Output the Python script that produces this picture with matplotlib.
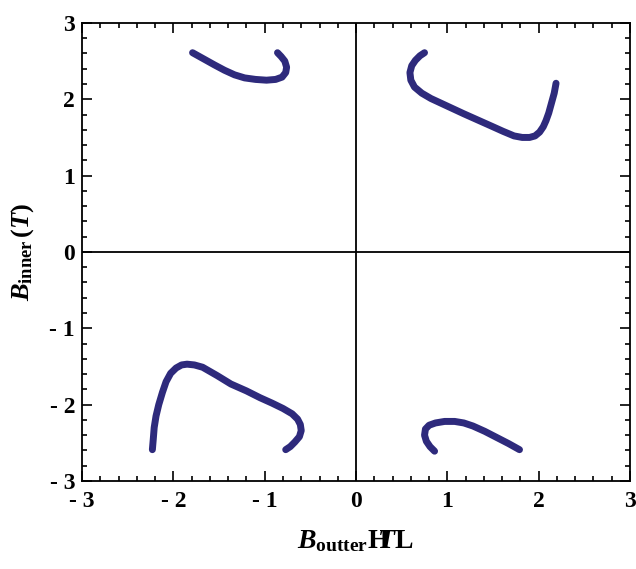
import matplotlib
matplotlib.use('Agg')
import matplotlib.pyplot as plt
from matplotlib.ticker import MultipleLocator, FixedLocator

plt.rcParams['font.family'] = ['Liberation Serif', 'DejaVu Serif']
plt.rcParams['font.weight'] = 'bold'
plt.rcParams['mathtext.fontset'] = 'custom'
plt.rcParams['mathtext.rm'] = 'Liberation Serif:bold'
plt.rcParams['mathtext.it'] = 'Liberation Serif:italic:bold'
plt.rcParams['mathtext.bf'] = 'Liberation Serif:bold'

# Branches of the solution curve, one per quadrant
q1_x = [0.75, 0.70, 0.65, 0.61, 0.59, 0.60, 0.64, 0.72, 0.82, 1.00, 1.18, 1.33, 1.48, 1.61,
        1.73, 1.82, 1.90, 1.96, 2.01, 2.05, 2.08, 2.11, 2.14, 2.17, 2.19]
q1_y = [2.61, 2.57, 2.51, 2.44, 2.35, 2.25, 2.16, 2.08, 2.01, 1.91, 1.81, 1.73, 1.65, 1.58,
        1.52, 1.50, 1.50, 1.52, 1.57, 1.64, 1.72, 1.82, 1.95, 2.08, 2.21]

q2_x = [-1.79, -1.67, -1.55, -1.44, -1.33, -1.22, -1.10, -0.98, -0.88, -0.81, -0.77, -0.76,
        -0.78, -0.82, -0.86]
q2_y = [2.61, 2.53, 2.45, 2.38, 2.32, 2.28, 2.26, 2.25, 2.26, 2.29, 2.35, 2.42, 2.50, 2.56, 2.61]

q3_x = [-2.23, -2.22, -2.21, -2.19, -2.16, -2.12, -2.08, -2.03, -1.97, -1.91, -1.85, -1.77,
        -1.68, -1.52, -1.37, -1.20, -1.05, -0.92, -0.80, -0.70, -0.64, -0.61, -0.60, -0.62,
        -0.67, -0.72, -0.77]
q3_y = [-2.59, -2.45, -2.30, -2.15, -2.00, -1.84, -1.70, -1.59, -1.52, -1.48, -1.47, -1.48,
        -1.51, -1.62, -1.73, -1.82, -1.91, -1.98, -2.05, -2.12, -2.19, -2.26, -2.34, -2.42,
        -2.49, -2.55, -2.59]

q4_x = [0.86, 0.81, 0.77, 0.75, 0.76, 0.80, 0.87, 0.97, 1.08, 1.18, 1.28, 1.41, 1.54, 1.67, 1.79]
q4_y = [-2.61, -2.55, -2.48, -2.40, -2.32, -2.27, -2.24, -2.22, -2.22, -2.24, -2.28, -2.35,
        -2.43, -2.51, -2.59]

major_ticks = [-3, -2, -1, 0, 1, 2, 3]
tick_labels = ['- 3', '- 2', '- 1', '0', '1', '2', '3']

curve_color = '#2e2a7c'

fig = plt.figure(figsize=(6.36, 5.69), dpi=100)
ax = fig.add_axes([0.129, 0.1547, 0.8616, 0.805])

for xs, ys in [(q1_x, q1_y), (q2_x, q2_y), (q3_x, q3_y), (q4_x, q4_y)]:
    ax.plot(xs, ys, color=curve_color, lw=5, solid_capstyle='round',
            solid_joinstyle='round')

# axes through the origin
ax.axhline(0, color='black', lw=1.3, zorder=0)
ax.axvline(0, color='black', lw=1.3, zorder=0)

ax.set_xlim(-3, 3)
ax.set_ylim(-3, 3)

ax.xaxis.set_major_locator(FixedLocator(major_ticks))
ax.yaxis.set_major_locator(FixedLocator(major_ticks))
ax.xaxis.set_minor_locator(MultipleLocator(0.2))
ax.yaxis.set_minor_locator(MultipleLocator(0.2))
ax.set_xticklabels(tick_labels)
ax.set_yticklabels(tick_labels)

ax.tick_params(which='both', direction='in', top=True, right=True, width=1.2)
ax.tick_params(which='major', length=7, labelsize=17)
ax.tick_params(axis='x', which='major', pad=7)
ax.tick_params(axis='y', which='major', pad=5)
ax.tick_params(which='minor', length=3.5)
for s in ax.spines.values():
    s.set_linewidth(1.3)

ax.set_xlabel(r'$B_{\rm outter}\mathrm{H}\!\!\!T\mathrm{L}$', fontsize=20, labelpad=12)
ax.set_ylabel(r'$B_{\rm inner}\,(T)$', fontsize=19, labelpad=10)

plt.savefig('out.png', dpi=100)
plt.close()
